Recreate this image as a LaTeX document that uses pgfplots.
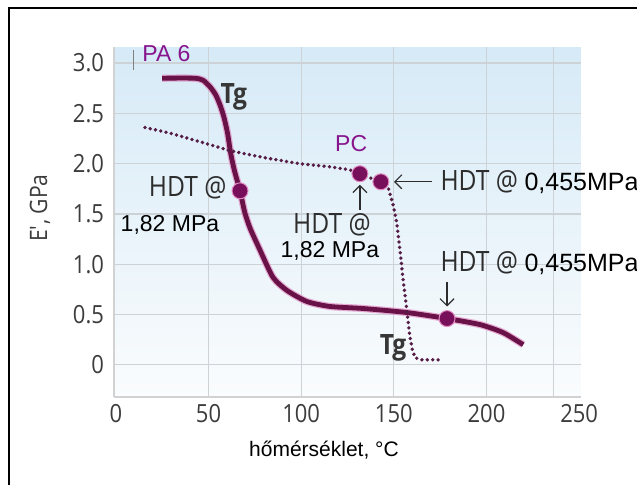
\documentclass[border=0pt]{standalone}
\usepackage{pgfplots}
\pgfplotsset{compat=1.18}
\usepackage{fontspec}
\setmainfont{Liberation Sans}
\newfontfamily\osc[FakeStretch=0.88]{Open Sans}
\newfontfamily\os{Open Sans}
\usetikzlibrary{arrows.meta}
\definecolor{linecol}{RGB}{105,18,72}
\definecolor{halo}{RGB}{225,140,195}
\definecolor{dotcol}{RGB}{120,15,90}
\definecolor{pccol}{RGB}{85,28,70}
\definecolor{labpurple}{RGB}{135,20,140}
\definecolor{tickgray}{RGB}{60,60,60}
\definecolor{anngray}{RGB}{45,45,45}
\definecolor{tggray}{RGB}{55,55,55}
\definecolor{bgtop}{RGB}{214,234,247}
\definecolor{bgbot}{RGB}{250,252,253}
\definecolor{gridcol}{RGB}{205,210,214}

\pgfplotstableread{
x y
25 2.85
42 2.85
47 2.83
51 2.76
54 2.68
56.5 2.57
58.5 2.45
60.3 2.30
62 2.10
64 1.93
67 1.73
69.5 1.52
72.4 1.36
77.8 1.14
84.8 0.87
92.3 0.74
103 0.63
115.6 0.58
133.4 0.56
157 0.52
178.7 0.46
196.5 0.40
209 0.32
219.8 0.20
}\pasix

\pgfplotstableread{
x y
15.7 2.36
30 2.30
45 2.22
61.5 2.13
80 2.06
99 2.00
115 1.97
126 1.94
131.7 1.90
137 1.86
143 1.82
147 1.76
149.5 1.60
151.5 1.42
153.3 1.14
155 0.85
157 0.55
158.5 0.30
160 0.15
161.5 0.07
165 0.05
175 0.05
}\pc

\begin{document}
\begin{tikzpicture}
\useasboundingbox (0,0) rectangle (318.5pt,242pt);
\clip (0,0) rectangle (318.5pt,242pt);
\fill[white] (0,0) rectangle (318.5pt,242pt);
\begin{axis}[
  at={(57pt,43.5pt)}, anchor=south west,
  width=233.5pt, height=175pt, scale only axis,
  xmin=-1, xmax=251, ymin=-0.32, ymax=3.16,
  axis x line*=bottom, axis y line*=left,
  axis line style={draw=gray!35, line width=0.6pt, -},
  xtick={0,50,100,150,200,250},
  xticklabels={0,50,100,150,200,250},
  ytick={0,0.5,1,1.5,2,2.5,3},
  yticklabels={0,0.5,1.0,1.5,2.0,2.5,3.0},
  major tick length=0pt,
  xmajorgrids=false, ymajorgrids=true,
  major grid style={draw=gridcol, line width=0.6pt},
  extra x ticks={50,100,150,200,236}, extra x tick labels={},
  extra x tick style={xmajorgrids=true, major tick length=0pt},
  tick label style={font=\osc\fontsize{12.5}{14}\selectfont, text=tickgray},
  yticklabel style={xshift=-1.5pt},
  /pgf/number format/assume math mode=true,
  axis background/.style={top color=bgtop, bottom color=bgbot},
  clip=false,
]
% PA 6 curve with halo
\addplot[halo, opacity=0.7, line width=3.6pt, smooth, tension=0.4] table[x=x,y=y] {\pasix};
\addplot[linecol, line width=2.4pt, smooth, tension=0.4] table[x=x,y=y] {\pasix};
% PC dotted curve
\addplot[pccol, line width=1.9pt, line cap=round, dash pattern=on 0pt off 2.7pt] table[x=x,y=y] {\pc};
% HDT points
\addplot[only marks, mark=*, mark size=4pt, mark options={fill=dotcol, draw=halo, line width=0.5pt}] coordinates {(67,1.73) (178.7,0.46) (131.7,1.90) (143,1.82)};

% labels
\node[anchor=west, text=labpurple, font=\fontsize{11.5}{13}\selectfont] at (axis cs:10.5,3.09) {PA 6};
\draw[gray, line width=0.6pt] (axis cs:9.7,2.93) -- (axis cs:9.7,3.13);
\node[text=labpurple, font=\fontsize{11.5}{13}\selectfont] at (axis cs:127,2.20) {PC};
\node[text=tggray, font=\osc\bfseries\fontsize{14}{16}\selectfont] at (axis cs:63.7,2.66) {Tg};
\node[text=tggray, font=\osc\bfseries\fontsize{14}{16}\selectfont] at (axis cs:149.6,0.17) {Tg};

\node[anchor=east, text=anngray, font=\osc\fontsize{14}{16}\selectfont] at (axis cs:63.5,1.76) {HDT @};
\node[font=\fontsize{11.5}{13}\selectfont] at (axis cs:29.2,1.39) {1,82 MPa};

\node[inner sep=0.5pt, text=anngray, font=\osc\fontsize{14}{16}\selectfont] at (axis cs:116.6,1.39) {HDT @};
\node[inner sep=0.5pt, font=\fontsize{11.5}{13}\selectfont] at (axis cs:115.5,1.13) {1,82 MPa};
\draw[anngray, line width=0.6pt, -{Straight Barb[length=3.5pt,width=7pt]}] (axis cs:131.7,1.54) -- (axis cs:131.7,1.79);

\draw[anngray, line width=0.6pt, -{Straight Barb[length=3.5pt,width=7pt]}] (axis cs:170.6,1.82) -- (axis cs:150.1,1.82);
\node[anchor=west, inner sep=0pt] at (axis cs:175,1.82) {\color{anngray}\osc\fontsize{14}{16}\selectfont HDT @ \normalfont\color{black}\fontsize{12.5}{14}\selectfont 0,455MPa};

\node[anchor=west, inner sep=0pt] at (axis cs:175,1.01) {\color{anngray}\osc\fontsize{14}{16}\selectfont HDT @ \normalfont\color{black}\fontsize{12.5}{14}\selectfont 0,455MPa};
\draw[anngray, line width=0.6pt, -{Straight Barb[length=3.5pt,width=7pt]}] (axis cs:178.7,0.82) -- (axis cs:178.7,0.58);
\end{axis}
\draw[black, line width=1pt] (4.5pt,-10pt) rectangle (340pt,238pt);
\node[font=\fontsize{10.5}{12}\selectfont] at (162pt,17pt) {hőmérséklet, °C};
\node[rotate=90, text=tickgray, font=\osc\fontsize{12}{14}\selectfont] at (20pt,138pt) {E\textquotesingle, GPa};
\end{tikzpicture}
\end{document}
